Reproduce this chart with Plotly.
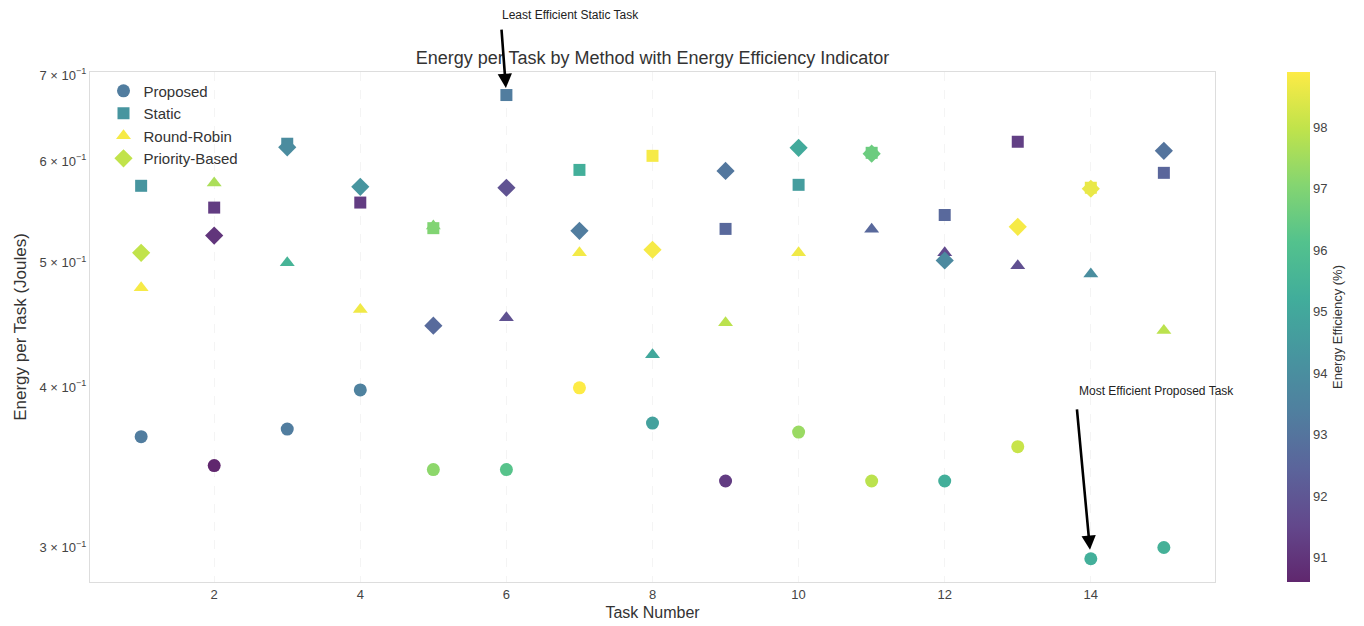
import math
import plotly.graph_objects as go
import plotly.colors as pc

# ---------------- data ----------------
tasks = list(range(1, 16))

proposed_energy = [0.366, 0.3475, 0.371, 0.398, 0.345, 0.345, 0.3995, 0.375, 0.338, 0.369, 0.338, 0.338, 0.3595, 0.294, 0.300]
proposed_eff = [93.3, 90.6, 93.3, 93.5, 97.2, 96.2, 98.9, 94.75, 91.2, 97.4, 97.9, 95.3, 98.1, 95.3, 95.4]

static_energy = [0.574, 0.552, 0.619, 0.557, 0.532, 0.6755, 0.5906, 0.6057, 0.5313, 0.575, 0.609, 0.5447, 0.6212, 0.572, 0.5875]
static_eff = [94.3, 91.2, 93.9, 91.2, 97.0, 93.3, 95.3, 98.8, 92.6, 94.6, 96.6, 92.6, 91.3, 98.6, 92.5]

rr_energy = [0.478, 0.577, 0.50, 0.4597, 0.534, 0.453, 0.509, 0.4239, 0.449, 0.509, 0.531, 0.509, 0.4973, 0.490, 0.4427]
rr_eff = [98.8, 97.65, 95.5, 98.7, 97.0, 91.85, 98.75, 95.0, 97.9, 98.7, 92.6, 91.6, 91.8, 94.0, 97.9]

priority_energy = [0.509, 0.525, 0.615, 0.573, 0.4466, 0.572, 0.5295, 0.5118, 0.5895, 0.6145, 0.608, 0.502, 0.5333, 0.571, 0.6112]
priority_eff = [98.0, 91.0, 93.9, 94.3, 92.7, 91.9, 93.3, 98.8, 93.1, 95.1, 96.6, 93.8, 98.8, 98.6, 93.0]

methods = ["Proposed", "Static", "Round-Robin", "Priority-Based"]
x_ticks = [2, 4, 6, 8, 10, 12, 14]
y_ticks = [0.3, 0.4, 0.5, 0.6, 0.7]
y_tick_text = ["3 × 10<sup>−1</sup>", "4 × 10<sup>−1</sup>", "5 × 10<sup>−1</sup>",
               "6 × 10<sup>−1</sup>", "7 × 10<sup>−1</sup>"]
cbar_ticks = [91, 92, 93, 94, 95, 96, 97, 98]

# ---------------- styling ----------------
def blend(hexcol, alpha=0.85):
    hexcol = hexcol.lstrip('#')
    r, g, b = (int(hexcol[i:i + 2], 16) for i in (0, 2, 4))
    r = round(alpha * r + (1 - alpha) * 255)
    g = round(alpha * g + (1 - alpha) * 255)
    b = round(alpha * b + (1 - alpha) * 255)
    return f"rgb({r},{g},{b})"

vir = pc.sequential.Viridis
scale = [[i / (len(vir) - 1), blend(c)] for i, c in enumerate(vir)]

all_eff = proposed_eff + static_eff + rr_eff + priority_eff
cmin, cmax = min(all_eff), max(all_eff)

series = [
    (methods[0], proposed_energy, proposed_eff, "circle", 13),
    (methods[1], static_energy, static_eff, "square", 12),
    (methods[2], rr_energy, rr_eff, "triangle-up", 13),
    (methods[3], priority_energy, priority_eff, "diamond", 14),
]

FONT = "Liberation Sans, Arial, Helvetica, sans-serif"
W, H = 1356, 618  # page body adds an 8px offset

fig = go.Figure()
for i, (name, energy, eff, sym, size) in enumerate(series):
    marker = dict(symbol=sym, size=size, color=eff, colorscale=scale,
                  cmin=cmin, cmax=cmax, line=dict(width=0))
    if i == 0:
        marker["showscale"] = True
        marker["colorbar"] = dict(
            x=(1287 - 90) / 1125, xanchor="left", xref="paper",
            y=0.5, yanchor="middle", len=1.0, lenmode="fraction",
            thickness=23, outlinewidth=0, xpad=0, ypad=0,
            tickvals=cbar_ticks, ticks="", ticklen=0,
            tickfont=dict(size=13, color="#444", family=FONT),
            title=dict(text="Energy Efficiency (%)", side="right",
                       font=dict(size=13, color="#333", family=FONT)),
        )
    fig.add_trace(go.Scatter(x=tasks, y=energy, mode="markers", name=name,
                             marker=marker))

# annotations pointing at data points
i_max = static_energy.index(max(static_energy))
i_min = proposed_energy.index(min(proposed_energy))

fig.add_annotation(x=tasks[i_max], y=math.log10(static_energy[i_max]),
                   xref="x", yref="y", text="", showarrow=True,
                   ax=-5, ay=-67, axref="pixel", ayref="pixel",
                   arrowhead=2, arrowsize=1.1, arrowwidth=2.6, arrowcolor="black",
                   standoff=7)
fig.add_annotation(x=tasks[i_max], xref="x", xshift=-6, xanchor="left",
                   y=(582 - 15) / 510, yref="paper", yanchor="middle",
                   text="Least Efficient Static Task", showarrow=False,
                   font=dict(size=12, color="#222", family=FONT))

fig.add_annotation(x=tasks[i_min], y=math.log10(proposed_energy[i_min]),
                   xref="x", yref="y", text="", showarrow=True,
                   ax=-14, ay=-151, axref="pixel", ayref="pixel",
                   arrowhead=2, arrowsize=1.1, arrowwidth=2.6, arrowcolor="black",
                   standoff=9)
fig.add_annotation(x=tasks[i_min], xref="x", xshift=-14, xanchor="left",
                   y=(582 - 391) / 510, yref="paper", yanchor="middle",
                   text="Most Efficient Proposed Task", showarrow=False,
                   font=dict(size=12, color="#222", family=FONT))

fig.update_layout(
    width=W, height=H,
    margin=dict(l=82, r=149, t=64, b=44, autoexpand=False),
    plot_bgcolor="white", paper_bgcolor="white",
    font=dict(family=FONT, color="#333"),
    title=dict(text="Energy per Task by Method with Energy Efficiency Indicator",
               x=0.5, xref="paper", xanchor="center",
               y=1 - 50 / H, yref="container", yanchor="middle",
               font=dict(size=18, color="#333", family=FONT)),
    legend=dict(x=0.012, y=0.995, xanchor="left", yanchor="top",
                bgcolor="rgba(255,255,255,0)", borderwidth=0,
                font=dict(size=15, color="#333", family=FONT),
                itemsizing="trace"),
    showlegend=True,
)

fig.update_xaxes(range=[0.3, 15.7], tickvals=x_ticks, ticks="",
                 showline=True, mirror=True, linecolor="#dddddd", linewidth=1,
                 showgrid=True, gridcolor="#f4f4f4", griddash="dash", gridwidth=1,
                 zeroline=False,
                 tickfont=dict(size=13, color="#444", family=FONT),
                 title=dict(text="Task Number", standoff=6,
                            font=dict(size=16, color="#333", family=FONT)))
fig.update_yaxes(type="log", range=[math.log10(0.282), math.log10(0.704)],
                 tickvals=y_ticks, ticktext=y_tick_text, ticks="",
                 showline=True, mirror=True, linecolor="#dddddd", linewidth=1,
                 showgrid=False, zeroline=False,
                 tickfont=dict(size=13, color="#444", family=FONT),
                 title=dict(text="Energy per Task (Joules)", standoff=8,
                            font=dict(size=17, color="#333", family=FONT)))

fig.write_html("out.html")
